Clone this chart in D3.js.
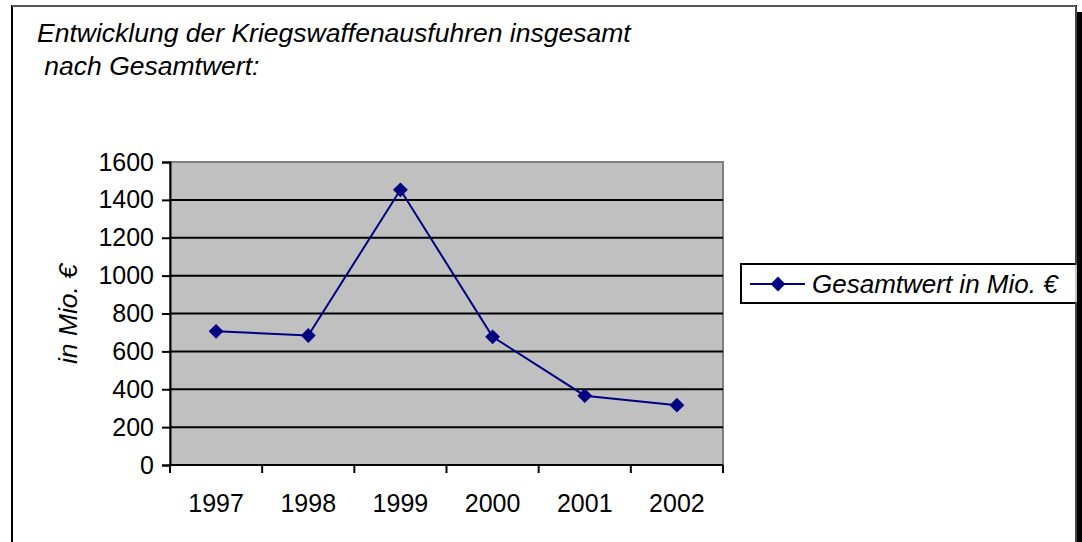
<!DOCTYPE html>
<meta charset="utf-8">
<style>
  body { margin: 0; background: #fff; }
  svg text { font-family: "Liberation Sans", Arial, sans-serif; fill: #000; }
</style>
<svg width="1082" height="542"></svg>
<script src="https://d3js.org/d3.v7.min.js"></script>
<script>

// data
var years = ["1997", "1998", "1999", "2000", "2001", "2002"];
var values = [706, 684, 1453, 677, 366, 316];
var yTicks = [0, 200, 400, 600, 800, 1000, 1200, 1400, 1600];
var seriesName = "Gesamtwert in Mio. €";
var titleLines = ["Entwicklung der Kriegswaffenausfuhren insgesamt", " nach Gesamtwert:"];
var yLabel = "in Mio. €";

var svg = d3.select("svg"),
    margin = {top: 162, left: 170},
    width = 553,
    height = 303,
    navy = "#000080",
    fs = 25;

// outer frame with shadow
svg.append("rect")
    .attr("x", 12).attr("y", 6).attr("width", 1064).attr("height", 560)
    .attr("fill", "#fff").attr("stroke", "#000").attr("stroke-width", 2);
svg.append("line").attr("x1", 12).attr("x2", 1076).attr("y1", 6).attr("y2", 6)
    .attr("stroke", "#555").attr("stroke-width", 2);

var title = svg.append("text")
    .attr("font-size", 26.5).attr("font-style", "italic")
    .attr("xml:space", "preserve");
title.selectAll("tspan").data(titleLines).enter().append("tspan")
    .attr("x", 37).attr("y", function(d, i) { return 42 + i * 33; })
    .text(function(d) { return d; });

var x = d3.scaleBand().domain(years).range([0, width]);
var y = d3.scaleLinear().domain([0, 1600]).range([height, 0]);

var g = svg.append("g").attr("transform", "translate(" + margin.left + "," + margin.top + ")");

g.append("rect")
    .attr("width", width).attr("height", height)
    .attr("fill", "#c0c0c0").attr("stroke", "#808080").attr("stroke-width", 2);

g.append("g").selectAll("line").data(yTicks.filter(function(d) { return d > 0 && d < 1600; }))
    .enter().append("line")
    .attr("x1", 0).attr("x2", width)
    .attr("y1", function(d) { return y(d); }).attr("y2", function(d) { return y(d); })
    .attr("stroke", "#000").attr("stroke-width", 2);

var yAxis = g.append("g")
    .call(d3.axisLeft(y).tickValues(yTicks).tickFormat(d3.format("d")).tickSize(8).tickPadding(8));
yAxis.select(".domain").attr("stroke-width", 2);
yAxis.selectAll(".tick line").attr("stroke-width", 2);
yAxis.selectAll("text").attr("font-size", fs).attr("font-family", "Liberation Sans, Arial, sans-serif");

var xAxis = g.append("g")
    .attr("transform", "translate(0," + height + ")")
    .call(d3.axisBottom(x).tickSize(0).tickPadding(29));
xAxis.select(".domain").attr("stroke-width", 2).attr("d", "M0,0H" + width);
xAxis.selectAll("text").attr("font-size", fs).attr("font-family", "Liberation Sans, Arial, sans-serif");

// category separator ticks
xAxis.append("g").selectAll("line").data(d3.range(years.length + 1))
    .enter().append("line")
    .attr("x1", function(i) { return i * x.step(); }).attr("x2", function(i) { return i * x.step(); })
    .attr("y1", 0).attr("y2", 8)
    .attr("stroke", "#000").attr("stroke-width", 2);

svg.append("text")
    .attr("transform", "translate(77," + 314 + ") rotate(-90)")
    .attr("text-anchor", "middle")
    .attr("font-size", 26.5).attr("font-style", "italic")
    .text(yLabel);

var line = d3.line()
    .x(function(d, i) { return x(years[i]) + x.bandwidth() / 2; })
    .y(function(d) { return y(d); });

g.append("path")
    .datum(values)
    .attr("fill", "none").attr("stroke", navy).attr("stroke-width", 2)
    .attr("d", line);

var diamond = d3.symbol().type(d3.symbolDiamond2).size(140);

g.selectAll(".pt").data(values).enter().append("path")
    .attr("class", "pt")
    .attr("transform", function(d, i) { return "translate(" + (x(years[i]) + x.bandwidth() / 2) + "," + y(d) + ")"; })
    .attr("d", diamond)
    .attr("fill", navy);

// legend
var lg = svg.append("g").attr("transform", "translate(741,264)");
lg.append("rect").attr("width", 345).attr("height", 39)
    .attr("fill", "#fff").attr("stroke", "#000").attr("stroke-width", 2);
lg.append("line").attr("x1", 9).attr("x2", 64).attr("y1", 20).attr("y2", 20)
    .attr("stroke", navy).attr("stroke-width", 2);
lg.append("path").attr("transform", "translate(37,20)").attr("d", diamond).attr("fill", navy);
lg.append("text").attr("x", 71).attr("y", 29)
    .attr("font-size", 26).attr("font-style", "italic")
    .text(seriesName);

// right shadow
svg.append("rect").attr("x", 1077).attr("y", 12).attr("width", 10).attr("height", 540).attr("fill", "#000");
svg.append("line").attr("x1", 1076).attr("x2", 1076).attr("y1", 6).attr("y2", 542)
    .attr("stroke", "#888").attr("stroke-width", 1);

</script>
